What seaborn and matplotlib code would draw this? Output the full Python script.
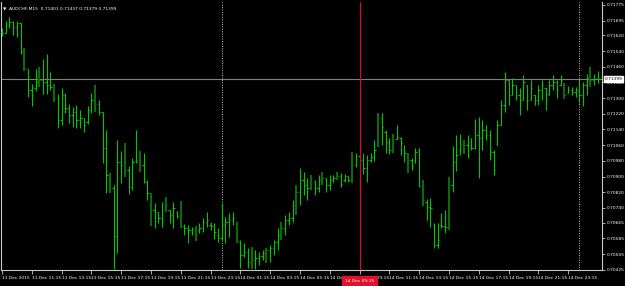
import numpy as np
import pandas as pd
import matplotlib
matplotlib.use("Agg")
import matplotlib.pyplot as plt
import matplotlib.transforms as mtransforms
from matplotlib import font_manager
import seaborn as sns

# ---------------- data (AUDCHF, M15) ----------------
highs = [0.71658, 0.71693, 0.71714, 0.71693, 0.71693, 0.71683, 0.71556, 0.71449, 0.71372, 0.71449,
         0.71459, 0.71500, 0.71525, 0.71433, 0.71372, 0.71321, 0.71352, 0.71326, 0.71270, 0.71255,
         0.71265, 0.71240, 0.71199, 0.71260, 0.71326, 0.71367, 0.71291, 0.71229, 0.71138, 0.70918,
         0.70857, 0.71087, 0.71030, 0.71071, 0.70954, 0.70995, 0.71138, 0.71030, 0.71020, 0.70883,
         0.70816, 0.70765, 0.70719, 0.70770, 0.70796, 0.70730, 0.70770, 0.70724, 0.70775, 0.70658,
         0.70653, 0.70643, 0.70648, 0.70663, 0.70689, 0.70719, 0.70668, 0.70663, 0.70638, 0.70765,
         0.70694, 0.70714, 0.70719, 0.70668, 0.70577, 0.70561, 0.70536, 0.70541, 0.70526, 0.70515,
         0.70526, 0.70536, 0.70551, 0.70577, 0.70638, 0.70668, 0.70704, 0.70719, 0.70781, 0.70857,
         0.70944, 0.70923, 0.70893, 0.70908, 0.70883, 0.70908, 0.70923, 0.70893, 0.70908, 0.70908,
         0.70923, 0.70918, 0.70913, 0.70903, 0.71025, 0.71020, 0.71010, 0.71020, 0.71010, 0.71020,
         0.71087, 0.71224, 0.71224, 0.71138, 0.71097, 0.71117, 0.71163, 0.71102, 0.71061, 0.71020,
         0.70995, 0.71046, 0.71046, 0.70883, 0.70786, 0.70791, 0.70663, 0.70663, 0.70714, 0.70730,
         0.70898, 0.71056, 0.71112, 0.71117, 0.71087, 0.71112, 0.71097, 0.71194, 0.71204, 0.71189,
         0.71163, 0.71138, 0.71036, 0.71189, 0.71291, 0.71433, 0.71392, 0.71403, 0.71367, 0.71352,
         0.71418, 0.71367, 0.71392, 0.71316, 0.71367, 0.71392, 0.71352, 0.71392, 0.71418, 0.71392,
         0.71418, 0.71377, 0.71362, 0.71357, 0.71357, 0.71392, 0.71382, 0.71423, 0.71459, 0.71423,
         0.71437]
lows = [0.71617, 0.71632, 0.71658, 0.71622, 0.71612, 0.71525, 0.71438, 0.71306, 0.71260, 0.71336,
        0.71357, 0.71321, 0.71321, 0.71341, 0.71280, 0.71148, 0.71163, 0.71224, 0.71173, 0.71153,
        0.71148, 0.71148, 0.71127, 0.71168, 0.71224, 0.71229, 0.71214, 0.70969, 0.70816, 0.70816,
        0.70429, 0.70510, 0.70867, 0.70898, 0.70811, 0.70832, 0.70969, 0.70923, 0.70867, 0.70781,
        0.70648, 0.70638, 0.70663, 0.70643, 0.70719, 0.70663, 0.70638, 0.70689, 0.70638, 0.70602,
        0.70561, 0.70602, 0.70571, 0.70612, 0.70617, 0.70643, 0.70628, 0.70582, 0.70566, 0.70577,
        0.70561, 0.70592, 0.70653, 0.70561, 0.70434, 0.70490, 0.70434, 0.70429, 0.70429, 0.70449,
        0.70475, 0.70459, 0.70464, 0.70500, 0.70526, 0.70577, 0.70602, 0.70653, 0.70668, 0.70704,
        0.70755, 0.70806, 0.70781, 0.70832, 0.70806, 0.70821, 0.70857, 0.70821, 0.70832, 0.70872,
        0.70883, 0.70847, 0.70872, 0.70872, 0.70867, 0.70949, 0.70934, 0.70913, 0.70872, 0.70974,
        0.70979, 0.71051, 0.71061, 0.71020, 0.71015, 0.71020, 0.71092, 0.71010, 0.70974, 0.70918,
        0.70934, 0.70969, 0.70847, 0.70750, 0.70679, 0.70643, 0.70536, 0.70536, 0.70638, 0.70612,
        0.70628, 0.70821, 0.70928, 0.71010, 0.71015, 0.70995, 0.71036, 0.71041, 0.70893, 0.71036,
        0.71087, 0.70985, 0.70908, 0.71061, 0.71163, 0.71229, 0.71265, 0.71316, 0.71291, 0.71214,
        0.71291, 0.71240, 0.71291, 0.71265, 0.71265, 0.71291, 0.71240, 0.71316, 0.71341, 0.71301,
        0.71367, 0.71296, 0.71326, 0.71316, 0.71306, 0.71275, 0.71260, 0.71316, 0.71357, 0.71367,
        0.71379]
opens = [0.71637, 0.71632, 0.71673, 0.71688, 0.71663, 0.71683, 0.71535, 0.71449, 0.71341, 0.71352,
         0.71382, 0.71392, 0.71382, 0.71367, 0.71357, 0.71301, 0.71189, 0.71316, 0.71250, 0.71214,
         0.71229, 0.71189, 0.71199, 0.71178, 0.71240, 0.71291, 0.71270, 0.71229, 0.71046, 0.70908,
         0.70842, 0.70597, 0.70974, 0.70959, 0.70934, 0.70847, 0.70980, 0.70974, 0.70959, 0.70872,
         0.70816, 0.70730, 0.70719, 0.70689, 0.70730, 0.70730, 0.70704, 0.70719, 0.70699, 0.70648,
         0.70638, 0.70628, 0.70633, 0.70628, 0.70638, 0.70668, 0.70653, 0.70648, 0.70602, 0.70587,
         0.70653, 0.70668, 0.70679, 0.70668, 0.70566, 0.70500, 0.70515, 0.70464, 0.70475, 0.70485,
         0.70495, 0.70510, 0.70526, 0.70536, 0.70566, 0.70602, 0.70638, 0.70679, 0.70689, 0.70755,
         0.70821, 0.70883, 0.70857, 0.70857, 0.70872, 0.70842, 0.70883, 0.70893, 0.70857, 0.70883,
         0.70893, 0.70903, 0.70883, 0.70903, 0.70883, 0.70959, 0.71005, 0.70985, 0.70944, 0.70985,
         0.71000, 0.71061, 0.71199, 0.71127, 0.71076, 0.71036, 0.71092, 0.71097, 0.71036, 0.71010,
         0.70985, 0.70985, 0.71036, 0.70852, 0.70770, 0.70745, 0.70653, 0.70551, 0.70653, 0.70648,
         0.70643, 0.70857, 0.70974, 0.71036, 0.71066, 0.71061, 0.71061, 0.71046, 0.71112, 0.71097,
         0.71138, 0.71112, 0.71025, 0.71061, 0.71163, 0.71265, 0.71392, 0.71316, 0.71367, 0.71316,
         0.71291, 0.71367, 0.71291, 0.71316, 0.71291, 0.71341, 0.71352, 0.71316, 0.71367, 0.71382,
         0.71367, 0.71372, 0.71326, 0.71341, 0.71331, 0.71341, 0.71316, 0.71367, 0.71403, 0.71392,
         0.71401]
closes = [0.71632, 0.71673, 0.71688, 0.71663, 0.71683, 0.71535, 0.71454, 0.71341, 0.71316, 0.71382,
          0.71392, 0.71382, 0.71367, 0.71357, 0.71301, 0.71189, 0.71316, 0.71250, 0.71214, 0.71229,
          0.71189, 0.71199, 0.71163, 0.71240, 0.71291, 0.71270, 0.71229, 0.71046, 0.70908, 0.70883,
          0.70597, 0.70974, 0.70959, 0.70934, 0.70847, 0.70974, 0.70974, 0.70959, 0.70872, 0.70816,
          0.70730, 0.70719, 0.70689, 0.70679, 0.70755, 0.70704, 0.70740, 0.70699, 0.70648, 0.70638,
          0.70628, 0.70633, 0.70602, 0.70638, 0.70668, 0.70679, 0.70648, 0.70617, 0.70587, 0.70653,
          0.70668, 0.70679, 0.70689, 0.70577, 0.70500, 0.70515, 0.70464, 0.70475, 0.70485, 0.70495,
          0.70510, 0.70526, 0.70536, 0.70566, 0.70602, 0.70638, 0.70679, 0.70689, 0.70755, 0.70821,
          0.70883, 0.70857, 0.70842, 0.70872, 0.70842, 0.70883, 0.70893, 0.70857, 0.70883, 0.70893,
          0.70903, 0.70862, 0.70903, 0.70883, 0.70959, 0.71005, 0.70985, 0.70944, 0.70985, 0.71000,
          0.71036, 0.71199, 0.71153, 0.71076, 0.71036, 0.71087, 0.71102, 0.71071, 0.71020, 0.70985,
          0.70954, 0.71025, 0.70852, 0.70781, 0.70745, 0.70740, 0.70551, 0.70577, 0.70648, 0.70643,
          0.70857, 0.70974, 0.71010, 0.71066, 0.71061, 0.71010, 0.71046, 0.71112, 0.71097, 0.71138,
          0.71112, 0.71025, 0.70934, 0.71163, 0.71265, 0.71392, 0.71316, 0.71367, 0.71316, 0.71291,
          0.71382, 0.71291, 0.71352, 0.71291, 0.71341, 0.71367, 0.71291, 0.71367, 0.71382, 0.71341,
          0.71392, 0.71316, 0.71341, 0.71331, 0.71341, 0.71316, 0.71367, 0.71403, 0.71392, 0.71403,
          0.71399]

# bars rendered in the darker shade in the screenshot
dark_bars = [6, 10, 14, 25, 29, 33, 37, 40, 44, 48, 52, 63, 67, 71, 75, 79, 83, 86, 90, 94,
             101, 105, 109, 113, 120, 124, 151, 158]

price_ticks = [0.71775, 0.71695, 0.71620, 0.71540, 0.71460, 0.71380, 0.71300, 0.71220, 0.71140,
               0.71060, 0.70980, 0.70900, 0.70820, 0.70740, 0.70665, 0.70585, 0.70505, 0.70425]
time_tick_bars = [0, 8, 16, 24, 32, 40, 48, 56, 64, 72, 80, 88, 96, 104, 112, 120, 128, 136, 144, 152]
time_tick_labels = ["11 Dec 2015", "11 Dec 11:15", "11 Dec 13:15", "11 Dec 15:15", "11 Dec 17:15",
                    "11 Dec 19:15", "11 Dec 21:15", "11 Dec 23:15", "14 Dec 01:15", "14 Dec 03:15",
                    "14 Dec 05:15", "14 Dec 07:15", "14 Dec 09:15", "14 Dec 11:15", "14 Dec 13:15",
                    "14 Dec 15:15", "14 Dec 17:15", "14 Dec 19:15", "14 Dec 21:15", "14 Dec 23:15"]
day_separators = [59, 155]
vline_bar = 96
vline_label = "14 Dec 09:15"
current_price = 0.71399
title = "\u25BC  AUDCHF,M15  0.71401 0.71437 0.71379 0.71399"

# ---------------- styling ----------------
df = pd.DataFrame({"high": highs, "low": lows, "open": opens, "close": closes})
df["bar"] = np.arange(len(df))
df["dark"] = df["bar"].isin(dark_bars)

sns.set_theme(style="dark", rc={"axes.facecolor": "black", "figure.facecolor": "black",
                                "axes.grid": False})

available = {f.name for f in font_manager.fontManager.ttflist}
if "Liberation Sans Narrow" in available:
    plt.rcParams["font.family"] = ["Liberation Sans Narrow", "DejaVu Sans"]
    fs = 4.0
else:
    plt.rcParams["font.family"] = ["DejaVu Sans"]
    fs = 3.2

fig = plt.figure(figsize=(6.25, 2.86), dpi=100, facecolor="black")
ax = fig.add_axes([1 / 625, 16 / 286, 601 / 625, 268 / 286])
ax.set_facecolor("black")

bright = "#00c800"
darkc = "#0b6b0b"

ax.axhline(current_price, color="#808080", lw=0.8, zorder=1)

for is_dark, sub in df.groupby("dark"):
    col = darkc if is_dark else bright
    lw = 1.5 if is_dark else 0.8
    ax.vlines(sub["bar"], sub["low"], sub["high"], colors=col, linewidth=lw, zorder=3)
    ax.hlines(sub["open"], sub["bar"] - 0.35, sub["bar"], colors=col, linewidth=0.8, zorder=3)
    ax.hlines(sub["close"], sub["bar"], sub["bar"] + 0.35, colors=col, linewidth=0.8, zorder=3)

for b in day_separators:
    ax.axvline(b, color="#c8c8c8", lw=0.7, ls=(0, (1, 1.5)), zorder=2)
ax.axvline(vline_bar, color="#d0102a", lw=0.9, zorder=4)

ax.set_xlim(-0.27, 161.1)
ax.set_ylim(0.704235, 0.71790)

ax.yaxis.tick_right()
ax.set_yticks(price_ticks)
ax.set_yticklabels([f"{p:.5f}" for p in price_ticks])
ax.tick_params(axis="y", which="major", right=True, left=False, length=2.5, width=0.6,
               color="#c8c8c8", labelcolor="white", labelsize=fs, pad=1.0, direction="out")

ax.set_xticks(time_tick_bars)
ax.set_xticklabels(time_tick_labels)
for lab in ax.get_xticklabels():
    lab.set_horizontalalignment("left")
ax.tick_params(axis="x", which="major", bottom=True, length=3, width=0.6, color="#c8c8c8",
               labelcolor="white", labelsize=fs, pad=1.5, direction="out")

for side in ["left", "bottom", "right"]:
    ax.spines[side].set_visible(True)
    ax.spines[side].set_color("#c8c8c8")
    ax.spines[side].set_linewidth(0.8)
ax.spines["top"].set_visible(False)

trans_y = mtransforms.blended_transform_factory(ax.transAxes, ax.transData)
ax.text(1.0045, current_price, f"{current_price:.5f}", transform=trans_y, ha="left", va="center",
        fontsize=fs, color="black", zorder=6, clip_on=False,
        bbox=dict(boxstyle="square,pad=0.2", facecolor="white", edgecolor="white"))

trans_x = mtransforms.blended_transform_factory(ax.transData, ax.transAxes)
ax.text(vline_bar, -0.040, vline_label, transform=trans_x, ha="center", va="center",
        fontsize=fs, color="white", zorder=6, clip_on=False,
        bbox=dict(boxstyle="square,pad=0.6", facecolor="#e0102e", edgecolor="#e0102e"))

ax.text(0.004, 0.985, title, transform=ax.transAxes, ha="left", va="top", fontsize=fs,
        color="white", zorder=6)

fig.savefig("out.png", dpi=100, facecolor="black")
